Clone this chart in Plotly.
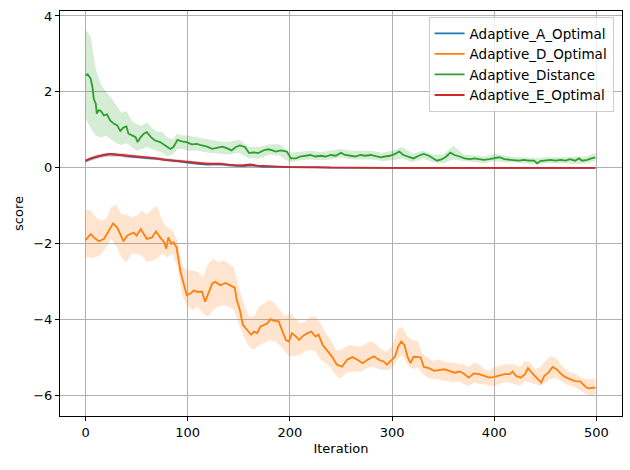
import plotly.graph_objects as go

# ---------------- data ----------------
d_x = [0, 5, 8, 13, 18, 23, 27, 31, 34, 37, 41, 44, 47, 50, 54, 57, 60, 65, 69, 73, 77, 79, 81, 84, 86, 89, 91, 93, 96, 99,
       103, 106, 109, 114, 117, 121, 124, 127, 132, 137, 142, 146, 148, 151, 154, 158, 162, 165, 168, 171, 175, 178, 181, 184, 189,
       193, 196, 199, 202, 206, 209, 212, 217, 221, 225, 228, 232, 236, 241, 246, 251, 256, 261, 266, 271, 276, 282, 287, 292, 295,
       300, 303, 306, 309, 312, 315, 318, 321, 326, 328, 331, 336, 341, 346, 351, 356, 361, 366, 370, 375, 380, 385, 390, 395,
       400, 405, 410, 415, 418, 421, 426, 430, 433, 438, 443, 446, 449, 453, 457, 461, 464, 469, 474, 479, 484, 487, 490, 493, 497, 499]
d_y = [-1.90, -1.74, -1.83, -1.93, -1.87, -1.65, -1.46, -1.57, -1.74, -1.93, -1.78, -1.74, -1.70, -1.78, -1.61, -1.74, -1.87, -1.83, -1.67, -1.83,
       -1.96, -2.13, -1.83, -2.00, -1.96, -2.09, -2.43, -2.74, -3.04, -3.35,
       -3.30, -3.22, -3.26, -3.26, -3.52, -3.22, -3.04, -3.00, -3.09, -3.03, -3.09, -3.15, -3.48, -3.74, -4.13, -4.26, -4.39, -4.31, -4.35, -4.18,
       -4.13, -4.09, -3.98, -4.02, -4.04, -4.31, -4.53, -4.57, -4.35, -4.44, -4.53, -4.44, -4.35, -4.31, -4.44, -4.39, -4.66, -4.79, -4.96, -5.18,
       -5.23, -5.05, -4.98, -5.05, -5.14, -5.05, -4.96, -5.05, -5.10, -5.18, -5.05, -4.96, -4.70, -4.57, -4.66, -4.96, -5.14, -4.97, -4.98, -4.99,
       -5.24, -5.27, -5.34, -5.32, -5.30, -5.34, -5.39, -5.36, -5.41, -5.52, -5.41, -5.43, -5.47, -5.52,
       -5.50, -5.47, -5.43, -5.43, -5.36, -5.47, -5.52, -5.43, -5.27, -5.43, -5.56, -5.65, -5.47, -5.39, -5.24, -5.30, -5.39, -5.50, -5.56, -5.61,
       -5.62, -5.69, -5.78, -5.80, -5.78, -5.80]

d_band_x = [0, 5, 10, 15, 20, 25, 30, 35, 40, 45, 50, 55, 60, 65, 70, 75, 80, 85, 90, 95, 100, 105, 110, 115, 120, 125, 130, 135, 140, 145,
            150, 155, 160, 165, 170, 175, 180, 185, 190, 195, 200, 205, 210, 215, 220, 225, 230, 235, 240, 245, 250, 255, 260, 265, 270,
            275, 280, 285, 290, 295, 300, 305, 310, 315, 320, 325, 330, 335, 340, 345, 350, 355, 360, 365, 370, 375, 380, 385, 390, 395,
            400, 405, 410, 415, 420, 425, 430, 435, 440, 445, 450, 455, 460, 465, 470, 475, 480, 485, 490, 495, 499]
d_upper = [-1.09, -1.13, -1.30, -1.39, -1.35, -1.04, -0.96, -1.22, -1.22, -1.30, -1.26, -1.13, -1.22, -1.09, -1.00, -1.39, -1.57, -1.65, -1.91, -2.61,
           -2.70, -2.70, -2.74, -2.87, -2.52, -2.39, -2.48, -2.43, -2.52, -2.61, -3.13, -3.60, -3.91, -3.91, -3.65, -3.56, -3.47, -3.56, -3.74, -3.91,
           -3.82, -3.96, -4.09, -4.04, -3.91, -3.91, -4.09, -4.35, -4.53, -4.79, -4.79, -4.70, -4.66, -4.70, -4.70, -4.61, -4.57, -4.66, -4.79, -4.83,
           -4.70, -4.26, -4.18, -4.44, -4.53, -4.55, -4.90, -4.99, -5.08, -5.04, -5.08, -5.12, -5.12, -5.17, -5.17, -5.25, -5.12, -5.17, -5.30, -5.34,
           -5.25, -5.21, -5.17, -5.17, -5.17, -5.25, -5.08, -5.12, -5.30, -5.25, -5.08, -4.95, -4.99, -5.17, -5.30, -5.39, -5.43, -5.52, -5.56, -5.56, -5.56]
d_lower = [-2.35, -2.37, -2.35, -2.28, -2.10, -1.88, -2.05, -2.35, -2.48, -2.26, -2.26, -2.30, -2.48, -2.43, -2.39, -2.26, -2.35, -2.26, -2.61, -3.39,
           -3.65, -3.74, -3.65, -3.83, -3.91, -3.74, -3.65, -3.61, -3.65, -3.74, -4.09, -4.45, -4.70, -4.79, -4.66, -4.61, -4.53, -4.57, -4.66, -4.83,
           -4.96, -4.96, -4.92, -4.83, -4.79, -4.83, -5.05, -5.14, -5.27, -5.45, -5.54, -5.40, -5.36, -5.36, -5.36, -5.27, -5.23, -5.27, -5.32, -5.32,
           -5.27, -5.05, -4.92, -5.18, -5.30, -5.25, -5.43, -5.52, -5.56, -5.56, -5.61, -5.61, -5.65, -5.61, -5.69, -5.74, -5.65, -5.69, -5.69, -5.74,
           -5.74, -5.69, -5.65, -5.65, -5.69, -5.74, -5.61, -5.65, -5.69, -5.74, -5.65, -5.56, -5.52, -5.61, -5.69, -5.74, -5.78, -5.87, -5.96, -6.00, -5.96]

g_x = [0, 2, 5, 7, 8, 10, 11, 13, 15, 18, 21, 24, 28, 31, 34, 37, 40, 42, 46, 49, 51, 54, 57, 60, 64, 68, 73, 78, 83, 86, 90, 94, 99,
       104, 109, 114, 119, 124, 129, 134, 138, 143, 147, 151, 156, 160, 164, 169, 175, 179, 183, 186, 191, 197, 201, 206, 210, 215, 220,
       225, 230, 235, 240, 245, 250, 254, 259, 264, 269, 274, 279, 284, 289, 293, 298, 303, 307, 311, 316, 321, 326, 331, 336, 341, 344,
       349, 353, 357, 361, 366, 371, 376, 381, 385, 390, 395, 400, 405, 410, 415, 419, 424, 429, 434, 439, 442, 445, 450, 455, 460, 465,
       470, 474, 479, 483, 486, 491, 495, 499]
g_y = [2.44, 2.47, 2.35, 2.09, 1.82, 1.69, 1.43, 1.52, 1.50, 1.38, 1.41, 1.25, 1.16, 1.12, 0.97, 1.06, 1.09, 0.90, 0.85, 0.81, 0.68, 0.81, 0.90,
       0.94, 0.81, 0.72, 0.68, 0.59, 0.50, 0.55, 0.74, 0.70, 0.68,
       0.62, 0.63, 0.59, 0.56, 0.50, 0.53, 0.56, 0.52, 0.46, 0.55, 0.59, 0.55, 0.39, 0.41, 0.39, 0.47, 0.49, 0.46, 0.43, 0.46, 0.43, 0.25, 0.25,
       0.30, 0.32, 0.34, 0.30, 0.32, 0.30, 0.34, 0.32, 0.40, 0.34, 0.32, 0.30, 0.34, 0.32, 0.34, 0.30, 0.28, 0.30, 0.32, 0.37, 0.43, 0.34, 0.30,
       0.25, 0.32, 0.37, 0.32, 0.25, 0.19, 0.23, 0.30, 0.40, 0.34, 0.30, 0.25, 0.23, 0.25, 0.23, 0.21, 0.23, 0.25, 0.28, 0.23, 0.21, 0.21, 0.19,
       0.21, 0.19, 0.19, 0.12, 0.18, 0.19, 0.21, 0.19, 0.21, 0.19, 0.23, 0.19, 0.25, 0.19, 0.21, 0.25, 0.28]

g_band_x = [0, 5, 10, 15, 20, 25, 30, 35, 40, 45, 50, 55, 60, 65, 70, 75, 80, 85, 90, 95, 100, 110, 120, 130, 140, 150, 160, 170, 180, 190,
            200, 210, 220, 230, 240, 250, 260, 270, 280, 290, 300, 310, 320, 330, 340, 350, 360, 370, 380, 390, 400, 410, 420, 430, 440,
            450, 460, 470, 480, 490, 499]
g_upper = [3.65, 3.45, 2.60, 2.20, 2.00, 1.85, 1.65, 1.45, 1.50, 1.25, 1.15, 1.10, 1.20, 1.05, 0.95, 0.95, 0.80, 0.75, 0.90, 0.85, 0.85, 0.80,
           0.75, 0.70, 0.68, 0.75, 0.55, 0.55, 0.62, 0.62, 0.40, 0.42, 0.45, 0.42, 0.45, 0.50, 0.45, 0.45, 0.45, 0.40, 0.45, 0.55, 0.38, 0.45,
           0.35, 0.35, 0.58, 0.35, 0.33, 0.30, 0.38, 0.33, 0.28, 0.28, 0.26, 0.28, 0.28, 0.28, 0.30, 0.30, 0.40]
g_lower = [1.30, 1.05, 0.85, 0.80, 0.85, 0.75, 0.65, 0.60, 0.65, 0.55, 0.45, 0.50, 0.55, 0.50, 0.45, 0.40, 0.30, 0.35, 0.50, 0.50, 0.45, 0.45,
           0.40, 0.38, 0.35, 0.40, 0.25, 0.25, 0.35, 0.32, 0.15, 0.20, 0.22, 0.20, 0.22, 0.28, 0.22, 0.22, 0.22, 0.18, 0.20, 0.25, 0.15, 0.25,
           0.15, 0.12, 0.22, 0.18, 0.16, 0.13, 0.18, 0.15, 0.14, 0.12, 0.08, 0.12, 0.12, 0.12, 0.10, 0.12, 0.18]

e_x = [0, 5, 11, 18, 24, 30, 37, 44, 50, 57, 64, 70, 77, 85, 93, 103, 110, 119, 132, 140, 148, 155, 161, 168, 174, 182, 190, 200, 215, 230,
       250, 300, 400, 499]
e_y = [0.19, 0.25, 0.30, 0.34, 0.37, 0.35, 0.33, 0.31, 0.30, 0.28, 0.26, 0.25, 0.21, 0.20, 0.18, 0.15, 0.13, 0.11, 0.11, 0.08, 0.06, 0.07,
       0.09, 0.06, 0.05, 0.04, 0.035, 0.02, 0.015, 0.01, 0.005, 0.003, 0.001, 0.0]
a_x = [0, 5, 11, 18, 24, 30, 37, 44, 50, 57, 64, 70, 77, 85, 93, 103, 110, 119, 132, 140, 148, 155, 161, 168, 174, 182, 190, 200, 215, 225,
       240, 300, 400, 499]
a_y = [0.18, 0.24, 0.29, 0.34, 0.36, 0.35, 0.33, 0.30, 0.29, 0.27, 0.25, 0.24, 0.22, 0.19, 0.16, 0.12, 0.11, 0.09, 0.10, 0.07, 0.05, 0.05,
       0.07, 0.04, 0.03, 0.025, 0.02, 0.015, 0.02, 0.02, 0.005, 0.002, 0.0, 0.0]

ae_band_x = [0, 10, 20, 30, 40, 50, 60, 70, 80, 90, 100, 120, 140, 160, 180, 200, 250, 300, 400, 499]
e_upper = [0.23, 0.34, 0.40, 0.40, 0.37, 0.34, 0.31, 0.29, 0.25, 0.22, 0.19, 0.14, 0.10, 0.10, 0.06, 0.03, 0.01, 0.006, 0.003, 0.002]
e_lower = [0.15, 0.24, 0.30, 0.30, 0.27, 0.26, 0.23, 0.21, 0.17, 0.16, 0.13, 0.08, 0.06, 0.06, 0.03, 0.01, 0.0, 0.0, -0.001, -0.002]
a_upper = [0.22, 0.33, 0.39, 0.40, 0.37, 0.33, 0.30, 0.28, 0.25, 0.21, 0.17, 0.12, 0.09, 0.085, 0.045, 0.025, 0.008, 0.005, 0.002, 0.002]
a_lower = [0.14, 0.23, 0.29, 0.30, 0.27, 0.25, 0.22, 0.20, 0.17, 0.15, 0.11, 0.07, 0.05, 0.045, 0.015, 0.005, 0.0, -0.001, -0.002, -0.002]

names = ["Adaptive_A_Optimal", "Adaptive_D_Optimal", "Adaptive_Distance", "Adaptive_E_Optimal"]
colors = ["#1f77b4", "#ff7f0e", "#2ca02c", "#d62728"]
fills = ["rgba(31,119,180,0.2)", "rgba(255,127,14,0.2)", "rgba(44,160,44,0.2)", "rgba(214,39,40,0.2)"]
x_ticks = [0, 100, 200, 300, 400, 500]
y_ticks = [-6, -4, -2, 0, 2, 4]

series = [
    (a_x, a_y, ae_band_x, a_upper, a_lower),
    (d_x, d_y, d_band_x, d_upper, d_lower),
    (g_x, g_y, g_band_x, g_upper, g_lower),
    (e_x, e_y, ae_band_x, e_upper, e_lower),
]

fig = go.Figure()
for i, (sx, sy, bx, bu, bl) in enumerate(series):
    fig.add_trace(go.Scatter(x=bx, y=bl, mode="lines", line=dict(width=0), showlegend=False, hoverinfo="skip"))
    fig.add_trace(go.Scatter(x=bx, y=bu, mode="lines", line=dict(width=0), fill="tonexty",
                             fillcolor=fills[i], showlegend=False, hoverinfo="skip"))
for i, (sx, sy, bx, bu, bl) in enumerate(series):
    fig.add_trace(go.Scatter(x=sx, y=sy, mode="lines", name=names[i], line=dict(color=colors[i], width=1.8)))

axis_common = dict(showgrid=True, gridcolor="#b0b0b0", gridwidth=0.8, showline=True, linecolor="black", linewidth=1,
                   mirror=True, ticks="outside", ticklen=4, tickcolor="black", zeroline=False,
                   tickfont=dict(family="DejaVu Sans", size=13, color="black"))

fig.update_layout(
    width=630, height=470,
    margin=dict(l=60, r=8, t=11, b=54),
    paper_bgcolor="white", plot_bgcolor="white",
    font=dict(family="DejaVu Sans", size=13, color="black"),
    xaxis=dict(range=[-25, 525], tickvals=x_ticks, title=dict(text="Iteration", standoff=5,
               font=dict(family="DejaVu Sans", size=13)), **axis_common),
    yaxis=dict(range=[-6.53, 4.13], tickvals=y_ticks, title=dict(text="score", standoff=6,
               font=dict(family="DejaVu Sans", size=13)), **axis_common),
    legend=dict(x=0.985, y=0.985, xanchor="right", yanchor="top", bgcolor="rgba(255,255,255,0.8)",
                traceorder="normal",
                bordercolor="#cccccc", borderwidth=1, font=dict(family="DejaVu Sans", size=13.5)),
    showlegend=True,
)

fig.write_html("out.html")
